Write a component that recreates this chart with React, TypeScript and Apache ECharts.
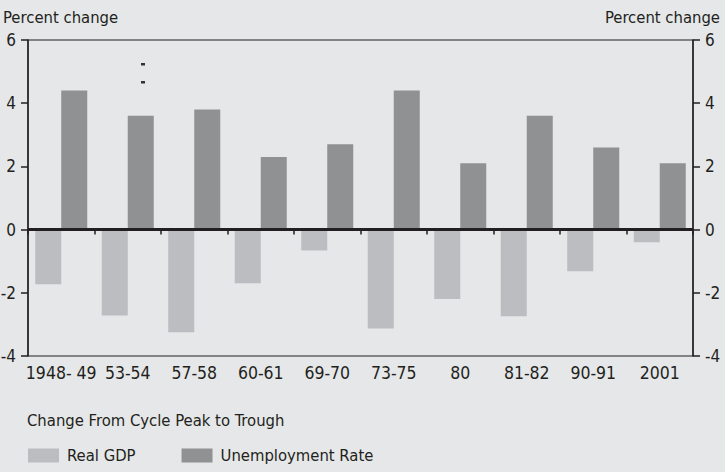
import React, { useEffect, useRef } from "react";
import * as echarts from "echarts";

const categories = ["1948- 49", "53-54", "57-58", "60-61", "69-70", "73-75", "80", "81-82", "90-91", "2001"];
const realGDP = [-1.73, -2.72, -3.25, -1.7, -0.66, -3.13, -2.2, -2.74, -1.32, -0.4];
const unemployment = [4.4, 3.6, 3.8, 2.3, 2.7, 4.4, 2.1, 3.6, 2.6, 2.1];
const yTicks = { min: -4, max: 6, interval: 2 };

const FONT = "'DejaVu Sans Condensed', 'Liberation Sans Narrow', sans-serif";
const TEXT = "#231f20";

export default function App() {
  const ref = useRef<HTMLDivElement>(null);
  useEffect(() => {
    if (!ref.current) return;
    const chart = echarts.init(ref.current, null, { renderer: "svg" });
    chart.setOption({
      animation: false,
      backgroundColor: "#e6e7e8",
      textStyle: { fontFamily: FONT, color: TEXT },
      grid: {
        left: 28, right: 32, top: 40, bottom: 116,
        containLabel: false, outerBoundsMode: "none",
        show: true, borderColor: TEXT, borderWidth: 1, backgroundColor: "transparent",
      },
      title: [
        { text: "Percent change", left: 3, top: 9, padding: 0, textStyle: { fontFamily: FONT, fontSize: 16.5, fontWeight: "normal", color: TEXT } },
        { text: "Percent change", right: 5, top: 9, padding: 0, textStyle: { fontFamily: FONT, fontSize: 16.5, fontWeight: "normal", color: TEXT } },
        { text: "Change From Cycle Peak to Trough", left: 27, top: 412, padding: 0, textStyle: { fontFamily: FONT, fontSize: 16.5, fontWeight: "normal", color: TEXT } },
      ],
      legend: {
        left: 28,
        top: 447,
        padding: 0,
        itemWidth: 31,
        itemHeight: 14,
        itemGap: 46,
        icon: "rect",
        textStyle: { fontFamily: FONT, fontSize: 16.5, color: TEXT, padding: [0, 0, 0, 3] },
        data: ["Real GDP", "Unemployment Rate"],
      },
      xAxis: {
        type: "category",
        data: categories,
        axisLine: { show: true, lineStyle: { color: TEXT, width: 1.5 } },
        axisTick: { show: true, length: 5, lineStyle: { color: TEXT, width: 1.5 } },
        axisLabel: { fontFamily: FONT, fontSize: 17.5, color: TEXT, margin: 8, interval: 0 },
      },
      yAxis: [
        {
          type: "value",
          position: "left",
          ...yTicks,
          axisLine: { show: true, lineStyle: { color: TEXT, width: 1.5 } },
          axisTick: { show: true, length: 7, lineStyle: { color: TEXT, width: 1.5 } },
          axisLabel: { fontFamily: FONT, fontSize: 17, color: TEXT, margin: 12 },
          splitLine: { show: false },
        },
        {
          type: "value",
          position: "right",
          ...yTicks,
          axisLine: { show: true, lineStyle: { color: TEXT, width: 1.5 } },
          axisTick: { show: true, length: 7, lineStyle: { color: TEXT, width: 1.5 } },
          axisLabel: { fontFamily: FONT, fontSize: 17, color: TEXT, margin: 12 },
          splitLine: { show: false },
        },
      ],
      series: [
        {
          name: "Real GDP",
          type: "bar",
          data: realGDP,
          barWidth: 26,
          barGap: "0%",
          itemStyle: { color: "#bcbdc0" },
        },
        {
          name: "Unemployment Rate",
          type: "bar",
          data: unemployment,
          barWidth: 26,
          barGap: "0%",
          itemStyle: { color: "#909193" },
          markLine: {
            silent: true,
            symbol: "none",
            label: { show: false },
            lineStyle: { color: TEXT, width: 3, type: "solid" },
            data: [{ yAxis: 0 }],
          },
        },
      ],
      graphic: [
        { type: "rect", shape: { x: 141, y: 63, width: 4, height: 2.5 }, style: { fill: "#333" } },
        { type: "rect", shape: { x: 141, y: 81, width: 4, height: 2.5 }, style: { fill: "#333" } },
      ],
    });
    return () => chart.dispose();
  }, []);
  return <div ref={ref} style={{ width: 725, height: 472, position: "absolute", left: 0, top: 0 }} />;
}
